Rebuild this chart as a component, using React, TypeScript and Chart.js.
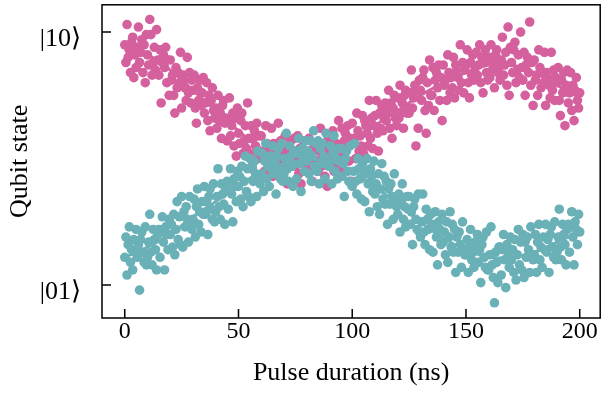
import { useEffect, useRef } from 'react';
import { Chart, registerables } from 'chart.js';

Chart.register(...registerables);

// Pulse durations are sampled every 0.5 ns from 0 to 200 ns
const pulseStart = 0;
const pulseStep = 0.5;

// |10> population-like readout (pink)
const pinkValues = [
  0.95,0.88,1.03,0.90,0.93,0.84,0.96,0.98,0.82,0.91,
  0.86,0.94,1.02,0.88,0.92,0.97,0.84,0.95,0.80,0.99,
  0.91,0.87,1.05,0.99,0.83,0.88,0.94,0.85,1.01,0.89,
  0.83,0.93,0.72,0.88,0.91,0.86,0.94,0.80,0.89,0.75,
  0.89,0.81,0.83,0.75,0.68,0.86,0.78,0.84,0.80,0.92,
  0.70,0.83,0.81,0.78,0.73,0.90,0.76,0.84,0.72,0.81,
  0.77,0.83,0.70,0.64,0.78,0.73,0.81,0.71,0.76,0.82,
  0.68,0.72,0.80,0.65,0.75,0.61,0.73,0.78,0.69,0.66,
  0.70,0.62,0.75,0.65,0.68,0.58,0.71,0.73,0.64,0.66,
  0.57,0.65,0.74,0.59,0.63,0.68,0.55,0.66,0.51,0.70,
  0.60,0.56,0.65,0.68,0.52,0.57,0.63,0.54,0.72,0.58,
  0.52,0.63,0.46,0.58,0.61,0.55,0.64,0.50,0.59,0.42,
  0.59,0.51,0.53,0.45,0.63,0.56,0.48,0.54,0.50,0.62,
  0.43,0.56,0.54,0.51,0.46,0.64,0.49,0.57,0.45,0.54,
  0.53,0.59,0.46,0.40,0.54,0.49,0.57,0.47,0.52,0.58,
  0.47,0.51,0.59,0.44,0.54,0.40,0.52,0.57,0.48,0.45,
  0.53,0.45,0.58,0.48,0.51,0.41,0.54,0.56,0.47,0.49,
  0.45,0.53,0.62,0.47,0.51,0.56,0.43,0.54,0.39,0.58,
  0.53,0.49,0.58,0.61,0.45,0.50,0.56,0.47,0.65,0.51,
  0.51,0.62,0.45,0.57,0.60,0.54,0.63,0.49,0.58,0.41,
  0.64,0.56,0.58,0.50,0.68,0.61,0.53,0.59,0.55,0.67,
  0.52,0.65,0.63,0.60,0.55,0.73,0.58,0.66,0.54,0.63,
  0.67,0.73,0.60,0.53,0.68,0.62,0.71,0.61,0.66,0.72,
  0.65,0.69,0.77,0.62,0.72,0.58,0.70,0.75,0.66,0.63,
  0.74,0.66,0.79,0.68,0.72,0.62,0.75,0.77,0.68,0.70,
  0.68,0.76,0.85,0.70,0.74,0.79,0.55,0.77,0.62,0.81,
  0.77,0.73,0.82,0.85,0.69,0.60,0.80,0.71,0.89,0.75,
  0.75,0.86,0.69,0.81,0.84,0.78,0.87,0.73,0.82,0.65,
  0.87,0.79,0.81,0.73,0.91,0.84,0.76,0.82,0.78,0.90,
  0.74,0.87,0.85,0.82,0.77,0.95,0.80,0.88,0.76,0.85,
  0.87,0.93,0.80,0.74,0.88,0.83,0.91,0.81,0.86,0.92,
  0.83,0.87,0.95,0.80,0.90,0.76,0.88,0.93,0.84,0.81,
  0.90,0.82,0.95,0.85,0.88,0.78,0.91,0.93,0.84,0.86,
  0.81,0.89,0.98,0.83,0.87,0.92,0.79,1.02,0.75,0.94,
  0.88,0.84,0.93,0.96,0.80,0.85,0.91,0.82,1.00,0.86,
  0.81,0.92,0.75,0.87,0.90,0.84,1.04,0.79,0.88,0.71,
  0.89,0.81,0.83,0.75,0.93,0.86,0.78,0.84,0.80,0.92,
  0.71,0.84,0.82,0.79,0.74,0.92,0.77,0.85,0.73,0.82,
  0.80,0.86,0.73,0.67,0.81,0.76,0.84,0.63,0.79,0.85,
  0.72,0.76,0.84,0.69,0.79,0.65,0.77,0.82,0.73,0.70,
  0.76,
];

// |01> population-like readout (teal)
const tealValues = [
  0.11,0.19,0.04,0.16,0.23,0.09,0.14,0.06,0.18,0.13,
  0.22,0.11,0.16,-0.02,0.18,0.21,0.13,0.09,0.23,0.08,
  0.11,0.17,0.28,0.13,0.08,0.22,0.18,0.14,0.06,0.20,
  0.22,0.11,0.21,0.27,0.17,0.06,0.23,0.20,0.14,0.26,
  0.20,0.24,0.15,0.28,0.12,0.22,0.33,0.18,0.27,0.16,
  0.35,0.15,0.29,0.23,0.31,0.26,0.17,0.35,0.24,0.22,
  0.26,0.34,0.19,0.31,0.38,0.24,0.29,0.21,0.33,0.28,
  0.39,0.28,0.33,0.20,0.35,0.38,0.30,0.26,0.40,0.25,
  0.29,0.35,0.46,0.31,0.26,0.40,0.36,0.32,0.24,0.38,
  0.41,0.30,0.40,0.46,0.36,0.25,0.42,0.39,0.33,0.45,
  0.39,0.43,0.34,0.47,0.31,0.41,0.51,0.37,0.46,0.35,
  0.50,0.33,0.47,0.41,0.49,0.44,0.35,0.53,0.42,0.40,
  0.44,0.52,0.37,0.49,0.56,0.42,0.47,0.39,0.51,0.46,
  0.55,0.44,0.49,0.36,0.51,0.54,0.46,0.42,0.56,0.41,
  0.44,0.50,0.60,0.46,0.41,0.55,0.51,0.47,0.39,0.53,
  0.53,0.42,0.52,0.58,0.48,0.37,0.54,0.51,0.45,0.57,
  0.49,0.53,0.44,0.57,0.41,0.51,0.61,0.47,0.56,0.45,
  0.57,0.40,0.54,0.48,0.56,0.51,0.42,0.60,0.49,0.47,
  0.47,0.55,0.40,0.52,0.59,0.45,0.50,0.42,0.54,0.49,
  0.54,0.43,0.48,0.35,0.50,0.53,0.45,0.41,0.55,0.40,
  0.39,0.45,0.56,0.41,0.36,0.50,0.46,0.42,0.34,0.48,
  0.45,0.33,0.44,0.50,0.40,0.29,0.46,0.43,0.37,0.49,
  0.36,0.40,0.31,0.44,0.28,0.38,0.48,0.34,0.43,0.32,
  0.41,0.24,0.38,0.32,0.40,0.35,0.26,0.44,0.33,0.31,
  0.28,0.36,0.21,0.33,0.40,0.26,0.31,0.23,0.35,0.30,
  0.35,0.24,0.29,0.16,0.31,0.34,0.26,0.22,0.36,0.21,
  0.19,0.25,0.36,0.21,0.16,0.30,0.26,0.22,0.14,0.28,
  0.24,0.13,0.23,0.29,0.19,0.08,0.25,0.22,0.16,0.28,
  0.17,0.21,0.12,0.25,0.09,0.19,0.29,0.15,0.24,0.13,
  0.22,0.05,0.19,0.13,0.21,0.16,0.07,0.25,0.14,0.12,
  0.12,0.18,0.05,0.15,0.22,0.10,0.13,0.07,0.17,0.14,
  0.20,0.09,0.14,0.01,0.16,0.19,0.11,0.07,0.21,0.06,
  0.06,0.12,0.23,0.08,0.03,-0.07,0.13,0.09,0.01,0.15,
  0.15,0.04,0.14,0.20,0.10,-0.01,0.16,0.13,0.07,0.19,
  0.10,0.14,0.05,0.18,0.02,0.12,0.22,0.08,0.17,0.06,
  0.20,0.03,0.17,0.11,0.19,0.14,0.05,0.23,0.12,0.10,
  0.12,0.20,0.05,0.17,0.24,0.10,0.15,0.07,0.19,0.14,
  0.24,0.13,0.18,0.05,0.20,0.23,0.15,0.11,0.25,0.10,
  0.13,0.19,0.30,0.15,0.10,0.24,0.20,0.16,0.08,0.22,
  0.24,0.13,0.23,0.29,0.19,0.08,0.25,0.22,0.16,0.28,
  0.21,
];

// Fit curves, read every 10 ns
const fitDurations = [0,10,20,30,40,50,60,70,80,90,100,110,120,130,140,150,160,170,180,190,200];
const pinkFit = [0.93,0.91,0.85,0.77,0.69,0.61,0.54,0.51,0.50,0.51,0.56,0.63,0.69,0.75,0.80,0.84,0.87,0.87,0.84,0.79,0.74];
const tealFit = [0.11,0.15,0.20,0.27,0.33,0.39,0.45,0.48,0.495,0.49,0.45,0.39,0.32,0.25,0.185,0.14,0.11,0.11,0.13,0.17,0.21];

const xTickValues = [0, 50, 100, 150, 200];
const yTickValues = [0, 1];
const yTickLabels = ['|01⟩', '|10⟩'];

const xLabel = 'Pulse duration (ns)';
const yLabel = 'Qubit state';

const PINK = '#d5609e';
const TEAL = '#6ab0b7';
const FONT = "'Liberation Serif', 'Times New Roman', serif";

const frameTicks = {
  id: 'frameTicks',
  afterDatasetsDraw(chart: any) {
    const { ctx, chartArea, scales } = chart;
    const { left, right, top, bottom } = chartArea;
    ctx.save();
    ctx.strokeStyle = '#000';
    ctx.lineWidth = 1.5;
    ctx.strokeRect(left, top, right - left, bottom - top);
    ctx.beginPath();
    xTickValues.forEach((v) => {
      const px = scales.x.getPixelForValue(v);
      ctx.moveTo(px, bottom);
      ctx.lineTo(px, bottom - 9);
    });
    yTickValues.forEach((v) => {
      const py = scales.y.getPixelForValue(v);
      ctx.moveTo(left, py);
      ctx.lineTo(left + 9, py);
    });
    ctx.stroke();
    ctx.restore();
  },
};

export default function App() {
  const ref = useRef<HTMLCanvasElement | null>(null);

  useEffect(() => {
    if (!ref.current) return;
    const toPoints = (vals: number[]) =>
      vals.map((v, i) => ({ x: pulseStart + i * pulseStep, y: v }));
    const fitPoints = (vals: number[]) => vals.map((v, i) => ({ x: fitDurations[i], y: v }));

    const chart = new Chart(ref.current, {
      type: 'scatter',
      data: {
        datasets: [
          {
            data: toPoints(pinkValues),
            backgroundColor: PINK,
            borderWidth: 0,
            pointRadius: 4.8,
            order: 4,
          },
          {
            data: fitPoints(pinkFit),
            showLine: true,
            borderColor: PINK,
            borderWidth: 3,
            pointRadius: 0,
            tension: 0.4,
            order: 3,
          },
          {
            data: toPoints(tealValues),
            backgroundColor: TEAL,
            borderWidth: 0,
            pointRadius: 4.8,
            order: 2,
          },
          {
            data: fitPoints(tealFit),
            showLine: true,
            borderColor: TEAL,
            borderWidth: 3,
            pointRadius: 0,
            tension: 0.4,
            order: 1,
          },
        ],
      } as any,
      options: {
        animation: false,
        responsive: false,
        maintainAspectRatio: false,
        layout: { padding: { top: 4, right: 2, left: 0, bottom: 0 } },
        plugins: { legend: { display: false }, tooltip: { enabled: false } },
        scales: {
          x: {
            type: 'linear',
            min: -10,
            max: 209,
            grid: { display: false },
            border: { display: false },
            afterBuildTicks: (s: any) => {
              s.ticks = xTickValues.map((v) => ({ value: v }));
            },
            afterFit: (s: any) => {
              s.height = 77;
              s.paddingLeft = 0;
              s.paddingRight = 0;
            },
            ticks: {
              color: '#000',
              font: { family: FONT, size: 24, lineHeight: 1 },
              padding: -6,
              maxRotation: 0,
              autoSkip: false,
              callback: (v: any) => String(v),
            },
            title: {
              display: true,
              text: xLabel,
              color: '#000',
              font: { family: FONT, size: 26 },
              padding: { top: 0, bottom: 6 },
            },
          },
          y: {
            type: 'linear',
            min: -0.13,
            max: 1.108,
            grid: { display: false },
            border: { display: false },
            afterBuildTicks: (s: any) => {
              s.ticks = yTickValues.map((v) => ({ value: v }));
            },
            afterFit: (s: any) => {
              s.width = 102;
              s.paddingTop = 0;
              s.paddingBottom = 0;
            },
            ticks: {
              color: '#000',
              font: { family: FONT, size: 26, lineHeight: 1 },
              padding: 13,
              labelOffset: 7,
              autoSkip: false,
              callback: (v: any) => yTickLabels[yTickValues.indexOf(Number(v))] ?? '',
            },
            title: {
              display: true,
              text: yLabel,
              color: '#000',
              font: { family: FONT, size: 26 },
              padding: { top: 5, bottom: 0 },
            },
          },
        },
      } as any,
      plugins: [frameTicks],
    });
    return () => chart.destroy();
  }, []);

  return (
    <div style={{ position: 'absolute', left: 0, top: 0, width: 605, height: 395, background: '#fff' }}>
      <canvas ref={ref} width={605} height={395} style={{ width: 605, height: 395, display: 'block' }} />
    </div>
  );
}
